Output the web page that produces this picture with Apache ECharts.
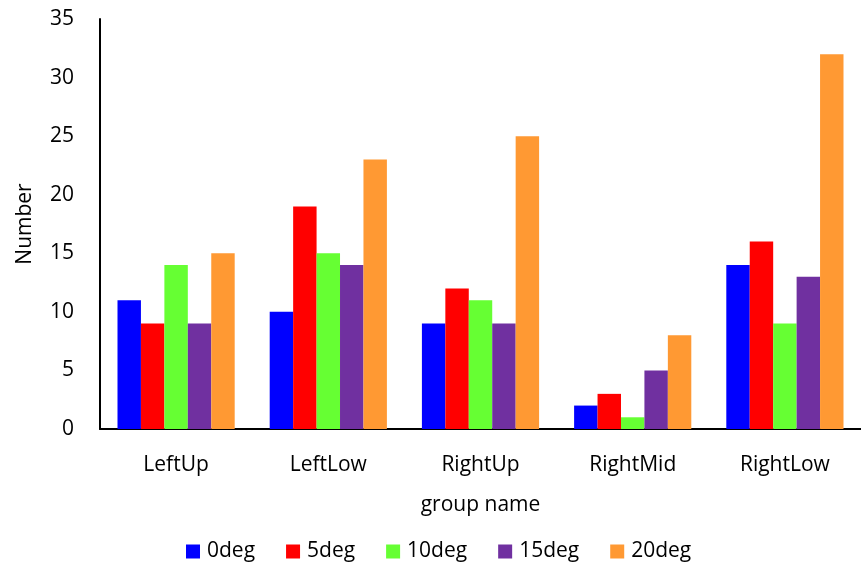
<!DOCTYPE html>
<html><head><meta charset="utf-8">
<script src="https://cdn.jsdelivr.net/npm/echarts@6/dist/echarts.min.js"></script>
<style>html,body{margin:0;padding:0;background:#fff}#c{width:861px;height:567px}</style>
</head><body><div id="c"></div>
<script>
const categories = ['LeftUp','LeftLow','RightUp','RightMid','RightLow'];
const seriesNames = ['0deg','5deg','10deg','15deg','20deg'];
const s0 = [11,10,9,2,14];
const s5 = [9,19,12,3,16];
const s10 = [14,15,11,1,9];
const s15 = [9,14,9,5,13];
const s20 = [15,23,25,8,32];
const yTicks = [0,5,10,15,20,25,30,35];
const colors = ['#0000ff','#ff0000','#66ff33','#7030a0','#ff9933'];
const allData = [s0,s5,s10,s15,s20];
const font = '"Open Sans", sans-serif';
const chart = echarts.init(document.getElementById('c'));
chart.setOption({
  animation:false,
  color:colors,
  textStyle:{fontFamily:font},
  grid:{left:100,top:19,width:765,height:410},
  legend:{top:536,left:181,itemWidth:14,itemHeight:14,itemGap:31,icon:'rect',
    textStyle:{fontSize:21,color:'#000',fontFamily:font,padding:[0,0,0,2]},data:seriesNames},
  xAxis:{type:'category',data:categories,name:'group name',nameLocation:'middle',nameGap:66,
    nameTextStyle:{fontSize:21,color:'#000',fontFamily:font},
    axisLine:{lineStyle:{color:'#000',width:2}},axisTick:{show:false},
    axisLabel:{fontSize:21,color:'#000',margin:26,fontFamily:font}},
  yAxis:{type:'value',min:yTicks[0],max:yTicks[yTicks.length-1],interval:5,name:'Number',nameLocation:'middle',nameGap:64,
    nameTextStyle:{fontSize:21,color:'#000',fontFamily:font},
    axisLine:{show:true,lineStyle:{color:'#000',width:2}},axisTick:{show:false},splitLine:{show:false},
    axisLabel:{fontSize:21,color:'#000',margin:26,fontFamily:font}},
  series: seriesNames.map((n,i)=>({name:n,type:'bar',data:allData[i],barGap:'0%',barCategoryGap:'23%'}))
});
</script></body></html>
